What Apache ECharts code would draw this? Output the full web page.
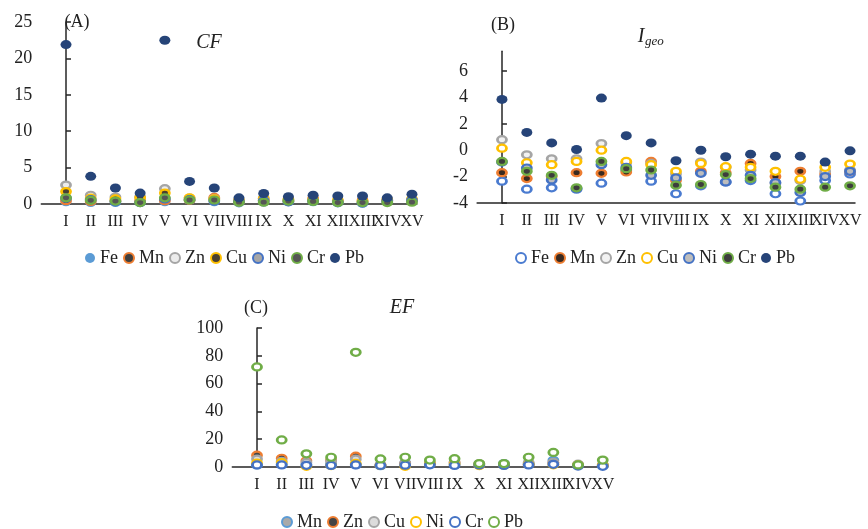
<!DOCTYPE html>
<html><head><meta charset="utf-8">
<script src="https://cdn.jsdelivr.net/npm/echarts@6/dist/echarts.min.js"></script>
<style>html,body{margin:0;padding:0;background:#fff}#c{width:868px;height:529px}</style>
</head><body><div id="c"></div>
<script>
// ---- data ----
const categories = ['I','II','III','IV','V','VI','VII','VIII','IX','X','XI','XII','XIII','XIV','XV'];
const cfTicks = [0, 5, 10, 15, 20, 25];
const igeoTicks = [-4, -2, 0, 2, 4, 6];
const efTicks = [0, 20, 40, 60, 80, 100];

const cfFe = [0.3, 0.2, 0.2, 0.2, 0.3, 0.5, 0.3, 0.15, 0.25, 0.3, 0.3, 0.15, 0.1, 0.3, 0.4];
const cfMn = [0.45, 0.35, 0.4, 0.45, 0.45, 0.5, 0.9, 0.3, 0.5, 0.45, 0.75, 0.4, 0.5, 0.45, 0.5];
const cfZn = [2.6, 1.2, 0.95, 0.95, 2.1, 0.8, 0.75, 0.45, 0.8, 0.6, 0.55, 0.3, 0.3, 0.5, 0.55];
const cfCu = [1.7, 0.8, 0.7, 0.85, 1.5, 0.85, 0.7, 0.5, 0.75, 0.65, 0.6, 0.5, 0.35, 0.6, 0.7];
const cfNi = [0.8, 0.6, 0.3, 0.2, 0.7, 0.6, 0.4, 0.35, 0.45, 0.3, 0.4, 0.25, 0.15, 0.4, 0.5];
const cfCr = [0.85, 0.5, 0.4, 0.2, 0.85, 0.55, 0.55, 0.25, 0.25, 0.4, 0.35, 0.2, 0.2, 0.2, 0.25];
const cfPb = [21.9, 3.8, 2.2, 1.5, 22.5, 3.1, 2.2, 0.85, 1.45, 1.0, 1.2, 1.1, 1.1, 0.85, 1.35];

const igFe = [-2.35, -2.95, -2.85, -2.95, -2.5, -1.5, -2.35, -3.3, -2.7, -2.4, -2.3, -3.3, -3.85, -2.3, -1.8];
const igMn = [-1.7, -2.15, -2.0, -1.7, -1.75, -1.65, -0.85, -2.3, -1.6, -1.7, -1.0, -2.0, -1.6, -1.8, -1.6];
const igZn = [0.8, -0.35, -0.65, -0.65, 0.5, -0.95, -1.0, -1.8, -0.9, -1.3, -1.5, -2.5, -2.3, -1.6, -1.5];
const igCu = [0.15, -0.95, -1.1, -0.85, 0.0, -0.85, -1.1, -1.6, -1.0, -1.25, -1.3, -1.6, -2.2, -1.3, -1.05];
const igNi = [-0.9, -1.35, -2.25, -2.9, -1.1, -1.3, -1.9, -2.1, -1.75, -2.4, -1.9, -2.45, -3.2, -2.0, -1.6];
const igCr = [-0.85, -1.6, -1.9, -2.85, -0.85, -1.4, -1.5, -2.65, -2.6, -1.85, -2.15, -2.8, -2.95, -2.8, -2.7];
const igPb = [3.85, 1.35, 0.55, 0.05, 3.95, 1.1, 0.55, -0.8, 0.0, -0.5, -0.3, -0.45, -0.45, -0.9, -0.05];

const efMn = [1.5, 1.8, 1.8, 2.4, 1.7, 0.9, 3.0, 2.0, 2.2, 1.6, 2.5, 2.5, 4.8, 1.4, 1.2];
const efZn = [8.5, 6.3, 4.5, 5.0, 7.8, 1.5, 2.6, 2.9, 3.5, 2.1, 1.8, 1.8, 3.0, 1.7, 1.2];
const efCu = [5.7, 4.1, 3.3, 4.4, 5.6, 1.6, 2.4, 3.3, 3.3, 2.3, 2.0, 3.3, 3.3, 2.0, 1.7];
const efNi = [2.8, 3.1, 0.5, 1.05, 2.6, 1.15, 0.5, 2.3, 2.0, 1.0, 1.3, 1.8, 1.6, 1.3, 1.2];
const efCr = [1.5, 1.5, 1.2, 1.1, 1.5, 1.1, 1.3, 1.6, 1.1, 1.5, 1.1, 1.5, 1.9, 0.7, 0.5];
const efPb = [72, 19.5, 9.5, 7, 82.5, 5.8, 7, 5, 6, 2.5, 2.5, 7, 10.5, 1.5, 5];

// ---- styles ----
const FONT = 'Liberation Serif';
const TXT = '#222';
const AX = '#262626';
const ring = (border, fill) => ({ border, fill, bw: 2.5 });
const solid = (c) => ({ border: c, fill: c, bw: 0 });

const panelA = [
  ['Fe', cfFe, solid('#5B9BD5')],
  ['Mn', cfMn, ring('#ED7D31', '#3f3f3f')],
  ['Zn', cfZn, ring('#A5A5A5', '#ececec')],
  ['Cu', cfCu, ring('#FFC000', '#4a4030')],
  ['Ni', cfNi, ring('#4472C4', '#a6a6a6')],
  ['Cr', cfCr, ring('#70AD47', '#555555')],
  ['Pb', cfPb, solid('#264478')]
];
const panelB = [
  ['Fe', igFe, ring('#4a7bd0', '#ffffff')],
  ['Mn', igMn, ring('#ED7D31', '#3a2a20')],
  ['Zn', igZn, ring('#A5A5A5', '#f2f2f2')],
  ['Cu', igCu, ring('#FFC000', '#ffffff')],
  ['Ni', igNi, ring('#4472C4', '#bdbdbd')],
  ['Cr', igCr, ring('#70AD47', '#3d3d3d')],
  ['Pb', igPb, solid('#264478')]
];
const panelC = [
  ['Mn', efMn, ring('#5B9BD5', '#a9a9a9')],
  ['Zn', efZn, ring('#ED7D31', '#444444')],
  ['Cu', efCu, ring('#A5A5A5', '#dcdcdc')],
  ['Ni', efNi, ring('#FFC000', '#ffffff')],
  ['Cr', efCr, ring('#4472C4', '#ffffff')],
  ['Pb', efPb, ring('#70AD47', '#ffffff')]
];

function mkSeries(prefix, gi, list) {
  return list.map(([name, vals, st]) => ({
    name: prefix + '-' + name, type: 'scatter', xAxisIndex: gi, yAxisIndex: gi,
    data: vals.map((v, i) => [i, v]), symbol: 'circle',
    symbolSize: st.bw ? [9, 7] : [11, 9],
    itemStyle: { color: st.fill, borderColor: st.border, borderWidth: st.bw, opacity: 1 },
    emphasis: { disabled: true }
  }));
}
const catIdx = categories.map((c, i) => i);
const evenIdx = catIdx.filter(i => i % 2 === 0);
const oddIdx = catIdx.filter(i => i % 2 === 1);
// two x axes per grid (even / odd label positions) so neighbouring labels are never auto-hidden
function mkX(gi, idxs, withLine) {
  return {
    gridIndex: gi, type: 'value', position: 'bottom', min: -1, max: 14.2, interval: 1,
    axisLine: { show: withLine, onZero: false, lineStyle: { color: AX, width: 1.5 } },
    axisTick: { show: false }, splitLine: { show: false },
    axisLabel: {
      customValues: idxs, margin: 10, fontFamily: FONT, fontSize: 16, color: TXT,
      showMaxLabel: true, showMinLabel: true, hideOverlap: false,
      formatter: v => (Number.isInteger(v) && v >= 0 && v < categories.length) ? categories[v] : ''
    }
  };
}
function mkY(gi, ticks, min, max, interval) {
  return {
    gridIndex: gi, type: 'value', min, max, interval,
    axisLine: { show: true, lineStyle: { color: AX, width: 1.5 } },
    axisTick: { show: true, inside: true, length: 5, customValues: ticks, lineStyle: { color: AX, width: 1.5 } },
    splitLine: { show: false },
    axisLabel: {
      customValues: ticks, margin: 9, fontFamily: FONT, fontSize: 18, color: TXT,
      showMaxLabel: true, showMinLabel: true,
      formatter: v => ticks.includes(v) ? String(v) : ''
    }
  };
}
function mkLegend(prefix, list, left, top) {
  return {
    left, top, orient: 'horizontal', itemWidth: 10, itemHeight: 10, itemGap: 5,
    selectedMode: false, icon: 'circle',
    data: list.map(d => prefix + '-' + d[0]),
    formatter: n => n.slice(2),
    textStyle: { fontFamily: FONT, fontSize: 18, color: TXT }
  };
}
const titleStyle = (text, x, y, size, italic) => ({
  type: 'text', x, y,
  style: { text, fontFamily: FONT, fontSize: size, fontStyle: italic ? 'italic' : 'normal', fill: TXT, align: 'center', verticalAlign: 'middle' }
});

const chart = echarts.init(document.getElementById('c'), null, { renderer: 'canvas' });
chart.setOption({
  animation: false,
  backgroundColor: '#fff',
  grid: [
    { left: 41.3, top: 22, width: 375.6, height: 182, outerBoundsMode: 'none' },
    { left: 477.1, top: 51.2, width: 377.9, height: 151.8, outerBoundsMode: 'none' },
    { left: 232.3, top: 328, width: 375.4, height: 139, outerBoundsMode: 'none' }
  ],
  xAxis: [mkX(0, evenIdx, true), mkX(1, evenIdx, true), mkX(2, evenIdx, true),
          mkX(0, oddIdx, false), mkX(1, oddIdx, false), mkX(2, oddIdx, false)],
  yAxis: [mkY(0, cfTicks, 0, 25, 5), mkY(1, igeoTicks, -4, 7.5, 2), mkY(2, efTicks, 0, 100, 20)],
  legend: [mkLegend('A', panelA, 80, 244), mkLegend('B', panelB, 510, 244), mkLegend('C', panelC, 276, 508)],
  graphic: [
    titleStyle('(A)', 77, 22, 18, false),
    titleStyle('CF', 209, 43, 20, true),
    titleStyle('(B)', 503, 25, 18, false),
    titleStyle('I', 641, 37, 20, true),
    { type: 'text', x: 645, y: 42, style: { text: 'geo', fontFamily: FONT, fontSize: 13, fontStyle: 'italic', fill: TXT, align: 'left', verticalAlign: 'middle' } },
    titleStyle('(C)', 256, 308, 18, false),
    titleStyle('EF', 402, 308, 20, true)
  ],
  series: [].concat(mkSeries('A', 0, panelA), mkSeries('B', 1, panelB), mkSeries('C', 2, panelC))
});
</script></body></html>
